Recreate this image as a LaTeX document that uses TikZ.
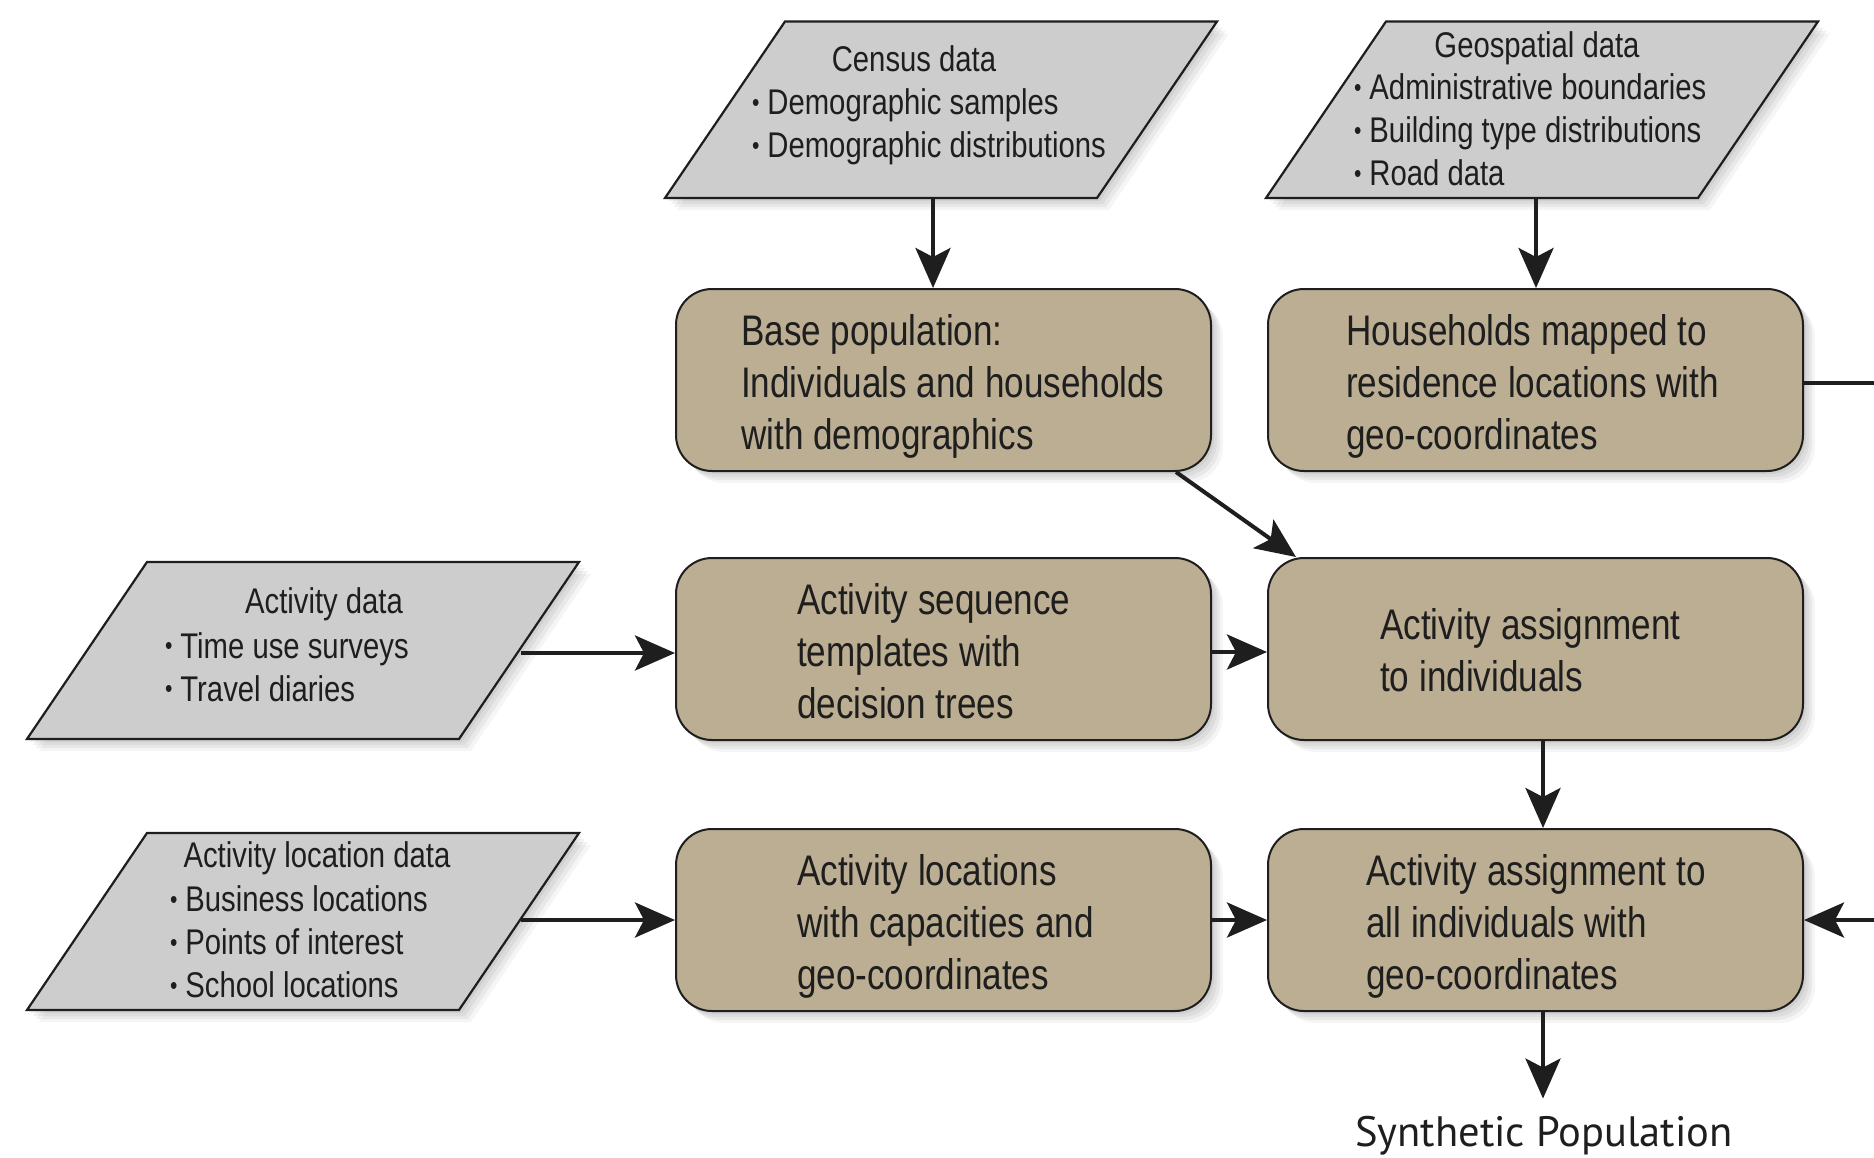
\documentclass[tikz,border=0pt]{standalone}
\usepackage{graphicx}
\usepackage{fontspec}
\setmainfont{Liberation Sans}[FakeStretch=0.82]
\newfontfamily\synfont{PT Sans}
\usetikzlibrary{arrows.meta,shadows}
\definecolor{paragray}{RGB}{205,205,205}
\definecolor{boxtan}{RGB}{188,174,146}
\definecolor{ink}{RGB}{30,30,30}
\newcommand\bul{\raisebox{.1em}{\scalebox{.72}{•}}\hspace{.22em}}
\tikzset{
  softshadow/.style={
    general shadow={fill=black,opacity=.05,shadow xshift=3pt,shadow yshift=-3pt},
    general shadow={fill=black,opacity=.05,shadow xshift=6pt,shadow yshift=-6pt},
    general shadow={fill=black,opacity=.05,shadow xshift=9pt,shadow yshift=-9pt},
    general shadow={fill=black,opacity=.04,shadow xshift=12pt,shadow yshift=-12pt}},
  para/.style={draw=ink,line width=2.2pt,fill=paragray,softshadow},
  box/.style={draw=ink,line width=2pt,fill=boxtan,rounded corners=36pt,
    minimum width=535pt,minimum height=182pt,inner sep=0pt,softshadow},
  boxtxt/.style={anchor=west,align=left,inner sep=0pt,text=ink,
    font=\fontsize{42.8}{52}\selectfont},
  ptitle/.style={anchor=center,inner sep=0pt,text=ink,
    font=\fontsize{35.7}{43}\selectfont},
  plist/.style={anchor=west,align=left,inner sep=0pt,text=ink,
    font=\fontsize{35.7}{43}\selectfont},
  arr/.style={draw=ink,line width=4pt,-{Stealth[length=40pt,width=35pt,inset=9pt]}},
  plain/.style={draw=ink,line width=4pt}
}
\begin{document}
\begin{tikzpicture}[x=1pt,y=-1pt]
\useasboundingbox[fill=white] (0,0) rectangle (1874,1157);

% parallelograms (data sources)
\draw[para] (665,198) -- (785,21.5) -- (1217,21.5) -- (1097,198) -- cycle;
\draw[para] (1266,198) -- (1386,21.5) -- (1818,21.5) -- (1698,198) -- cycle;
\draw[para] (27,739) -- (147,562) -- (579,562) -- (459,739) -- cycle;
\draw[para] (27,1010) -- (147,833) -- (579,833) -- (459,1010) -- cycle;

\coordinate (census-s) at (933,198);
\coordinate (geo-s) at (1536,198);
\coordinate (act-e) at (521,653);
\coordinate (loc-e) at (521,920);

\node[ptitle] (census-t) at (914,59) {Census data};
\node[plist] (census-l) at (752,127) {\bul Demographic samples\\\bul Demographic distributions};

\node[ptitle] (geo-t) at (1537,48) {Geospatial data};
\node[plist] (geo-l) at (1354,130) {\bul Administrative boundaries\\\bul Building type distributions\\\bul Road data};

\node[ptitle] (act-t) at (324,604) {Activity data};
\node[plist] (act-l) at (165,667) {\bul Time use surveys\\\bul Travel diaries};

\node[ptitle] (loc-t) at (317,858) {Activity location data};
\node[plist] (loc-l) at (170,942) {\bul Business locations\\\bul Points of interest\\\bul School locations};

% process boxes
\node[box] (bp) at (943.5,380) {};
\node[box] (hh) at (1535.5,380) {};
\node[box] (seq) at (943.5,649) {};
\node[box] (asg) at (1535.5,649) {};
\node[box] (locs) at (943.5,920) {};
\node[box] (all) at (1535.5,920) {};

\node[boxtxt] (bp-t) at ([xshift=66pt,yshift=-6pt]bp.west) {Base population:\\Individuals and households\\with demographics};
\node[boxtxt] (hh-t) at ([xshift=79pt,yshift=-6pt]hh.west) {Households mapped to\\residence locations with\\geo-coordinates};
\node[boxtxt] (seq-t) at ([xshift=122pt,yshift=-2pt]seq.west) {Activity sequence\\templates with\\decision trees};
\node[boxtxt] (asg-t) at ([xshift=113pt,yshift=-1pt]asg.west) {Activity assignment\\to individuals};
\node[boxtxt] (locs-t) at ([xshift=122pt,yshift=-6pt]locs.west) {Activity locations\\with capacities and\\geo-coordinates};
\node[boxtxt] (all-t) at ([xshift=99pt,yshift=-6pt]all.west) {Activity assignment to\\all individuals with\\geo-coordinates};

\node[inner xsep=0pt,inner ysep=17pt,anchor=base,text=ink] (syn) at (1544,1146)
  {\synfont\fontsize{42.5}{50}\selectfont Synthetic Population};

\coordinate (rt1) at (1874,383);
\coordinate (rt2) at (1874,920);

% connectors
\draw[arr] (census-s) -- (census-s |- bp.north);
\draw[arr] (geo-s) -- (geo-s |- hh.north);
\draw[arr] (act-e) -- (act-e -| seq.west);
\draw[arr] (loc-e) -- (loc-e -| locs.west);
\draw[arr] ([yshift=-3pt]seq.east) -- ([yshift=-3pt]asg.west);
\draw[arr] (locs.east) -- (all.west);
\draw[arr] ([xshift=-36pt]bp.south east) -- ([xshift=29pt]asg.north west);
\draw[arr] ([xshift=7.5pt]asg.south) -- ([xshift=7.5pt]all.north);
\draw[arr] ([xshift=7.5pt]all.south) -- ([xshift=7.5pt]all.south |- syn.north);
\draw[plain] ([yshift=-3pt]hh.east) -- (rt1);
\draw[arr] (rt2) -- (all.east);
\end{tikzpicture}
\end{document}
